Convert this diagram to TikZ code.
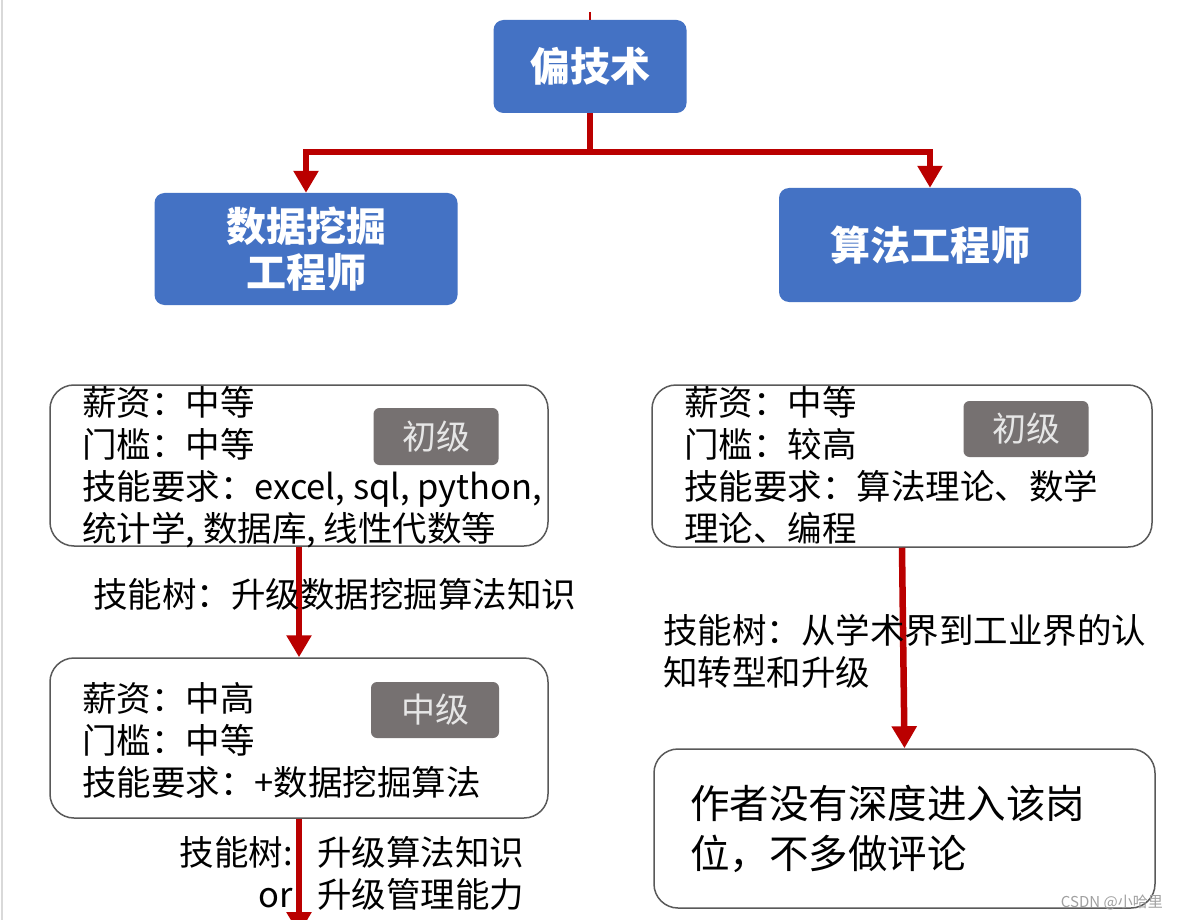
\documentclass[tikz,border=0pt]{standalone}
\usepackage{fontspec}
\setmainfont{Noto Sans CJK SC}
\usetikzlibrary{arrows.meta}
\definecolor{techblue}{HTML}{4472C4}
\definecolor{arrowred}{HTML}{BA0000}
\definecolor{taggray}{HTML}{767171}
\definecolor{tagtext}{HTML}{E6E6E6}
\definecolor{boxline}{HTML}{595959}
\definecolor{marktext}{HTML}{A0A0A0}
\begin{document}
\begin{tikzpicture}[x=1pt,y=-1pt,
 bluebox/.style={fill=techblue, rounded corners=10pt, inner sep=0pt, text=white,
   font=\bfseries\fontsize{40}{46}\selectfont, align=center},
 infobox/.style={draw=boxline, line width=1.5pt, rounded corners=24pt, inner sep=0pt},
 levtag/.style={fill=taggray, rounded corners=6pt, inner sep=0pt, text=tagtext,
   font=\fontsize{34}{40}\selectfont},
 bodytext/.style={inner sep=0pt, anchor=north west, align=left,
   font=\fontsize{34.5}{42}\selectfont},
 redarrow/.style={draw=arrowred, line width=6.5pt, -{Triangle[width=24pt,length=22pt]}},
]
\fill[white] (0,0) rectangle (1178,920);
\clip (0,0) rectangle (1178,920);
\draw[black!15, line width=2pt] (1.5,0) -- (1.5,920);

% blue boxes
\node[bluebox, minimum width=193pt, minimum height=93pt] (tech) at (590,66.5) {偏技术};
\node[bluebox, minimum width=303pt, minimum height=112pt] (dm) at (306,249) {数据挖掘\\工程师};
\node[bluebox, minimum width=302pt, minimum height=114pt] (alg) at (930,245) {算法工程师};

% info boxes
\node[infobox, minimum width=498pt, minimum height=161pt] (lb1) at (299,465.5) {};
\node[infobox, minimum width=498pt, minimum height=160pt] (lb2) at (299,738) {};
\node[infobox, minimum width=500pt, minimum height=162pt] (rb1) at (902,466) {};
\node[infobox, minimum width=501pt, minimum height=159pt] (rb2) at (904.5,828.5) {};

% tags
\node[levtag, minimum width=125pt, minimum height=57pt] (t1) at (436,436.5) {初级};
\node[levtag, minimum width=128pt, minimum height=56pt] (t2) at (435,710) {中级};
\node[levtag, minimum width=125pt, minimum height=56pt] (t3) at (1026,429) {初级};

% box texts
\node[bodytext] (lb1txt) at (82,386) {薪资：中等\\门槛：中等\\技能要求：excel, sql, python,\\统计学, 数据库, 线性代数等};
\node[bodytext] (lb2txt) at (82,682) {薪资：中高\\门槛：中等\\技能要求：+数据挖掘算法};
\node[bodytext] (rb1txt) at (684,386) {薪资：中等\\门槛：较高\\技能要求：算法理论、数学\\理论、编程};
\node[bodytext, font=\fontsize{39.5}{50}\selectfont] (rb2txt) at (690,785) {作者没有深度进入该岗\\位，不多做评论};

% connectors
\coordinate (topin) at (590,12);
\draw[arrowred, line width=1.5pt] (topin) -- (tech.north);
\coordinate (split) at (590,152);
\draw[redarrow] (tech.south) -- (split) -| (dm.north);
\draw[redarrow] (split) -| (alg.north);
\draw[redarrow] (lb1.south) -- (lb2.north);
\coordinate (lbend) at (299,934);
\draw[redarrow] (lb2.south) -- (lbend);
\draw[redarrow] (rb1.south) -- (rb2.north);

% labels
\node[bodytext] (lab1) at (93,578) {技能树：升级数据挖掘算法知识};
\node[bodytext, anchor=north east, align=right] (lab2a) at (293,836) {技能树:\\or};
\node[bodytext] (lab2b) at (317,836) {升级算法知识\\升级管理能力};
\node[bodytext] (lab3) at (663,614) {技能树：从学术界到工业界的认\\知转型和升级};

% watermark
\node[inner sep=0pt, anchor=east, text=marktext, font=\fontsize{15}{18}\selectfont] (wm) at (1163,903) {CSDN @小哈里};
\end{tikzpicture}
\end{document}
